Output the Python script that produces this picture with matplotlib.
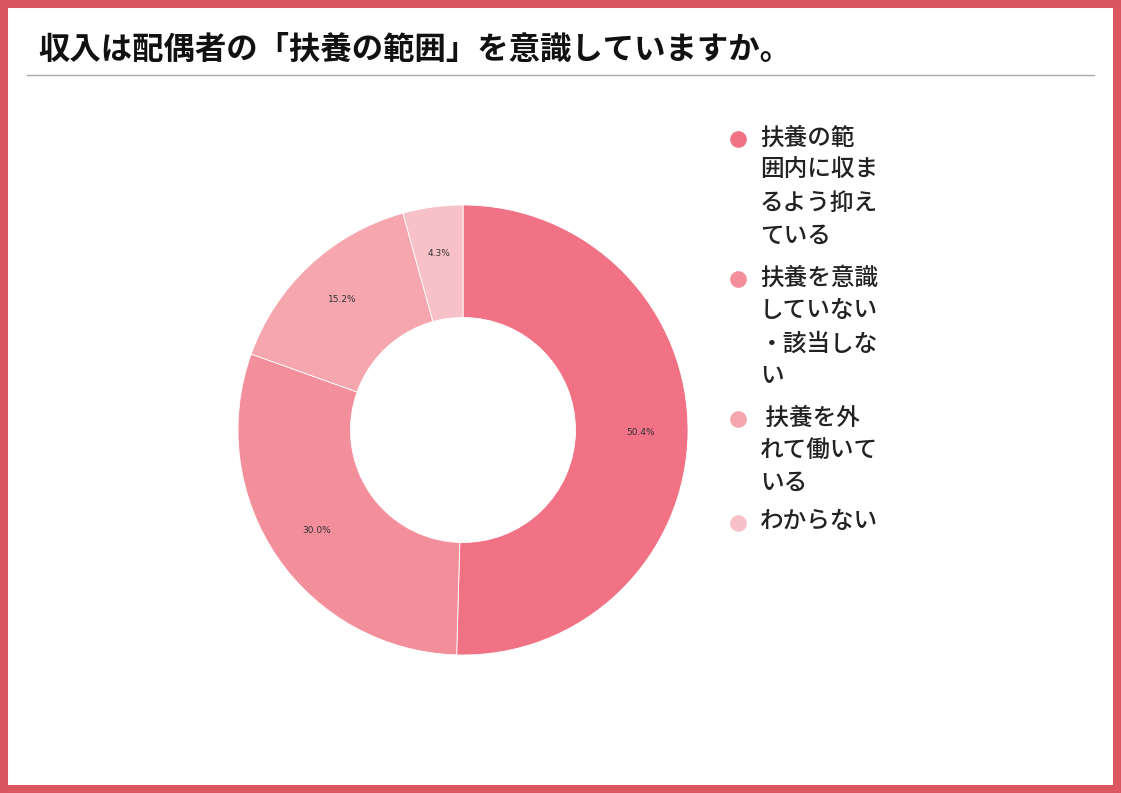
import matplotlib.pyplot as plt
from matplotlib.patches import Rectangle
from matplotlib.lines import Line2D

plt.rcParams['font.family'] = ['Noto Sans CJK JP', 'DejaVu Sans']

# Data
title = '収入は配偶者の「扶養の範囲」を意識していますか。'
labels = ['扶養の範\n囲内に収ま\nるよう抑え\nている',
          '扶養を意識\nしていない\n・該当しな\nい',
          ' 扶養を外\nれて働いて\nいる',
          'わからない']
values = [50.4, 30.0, 15.2, 4.3]
colors = ['#F07284', '#F38F9B', '#F5A6AF', '#F8C1C7']

W, H = 1121, 793
fig = plt.figure(figsize=(W / 100, H / 100), dpi=100)
fig.patch.set_facecolor('white')

# red frame
frame = Rectangle((4 / W, 4 / H), 1 - 8 / W, 1 - 7.5 / H, transform=fig.transFigure,
                  fill=False, edgecolor='#DA5661', linewidth=5.8)
fig.add_artist(frame)

# title and rule
fig.text(38 / W, 1 - 50 / H, title, fontsize=22.6, fontweight='bold',
         va='center', ha='left', color='#111111')
fig.add_artist(Line2D([27 / W, 1094 / W], [1 - 75 / H, 1 - 75 / H],
                      transform=fig.transFigure, color='#A8A8A8', linewidth=1))

# donut
cx, cy, r = 463, 430, 225
ax = fig.add_axes([(cx - r) / W, (H - cy - r) / H, 2 * r / W, 2 * r / H])
pct = iter(values)
wedges, texts, autotexts = ax.pie(values, colors=colors, startangle=90, counterclock=False,
                                  autopct=lambda p: '%.1f%%' % next(pct), pctdistance=0.79,
                                  radius=1,
                                  wedgeprops=dict(width=0.5, edgecolor='white', linewidth=0.6),
                                  textprops=dict(fontsize=6.5, color='#333333',
                                                 family='DejaVu Sans'))
ax.set_xlim(-1, 1)
ax.set_ylim(-1, 1)
ax.set_aspect('equal')
ax.axis('off')

# legend drawn by hand (wrapped labels)
line_h = 33
y = 137
for lab, col in zip(labels, colors):
    fig.add_artist(Line2D([738 / W], [1 - (y + 2) / H], transform=fig.transFigure,
                          marker='o', markersize=11, color=col, linestyle='none'))
    nlines = lab.count('\n') + 1
    fig.text(760 / W, 1 - (y - line_h / 2 + 6) / H, lab, fontsize=17, va='top', ha='left',
             color='#222222', linespacing=1.55, fontweight='medium')
    y += nlines * line_h + 8
    if nlines == 3:
        y -= 3

fig.savefig('out.png', dpi=100)
